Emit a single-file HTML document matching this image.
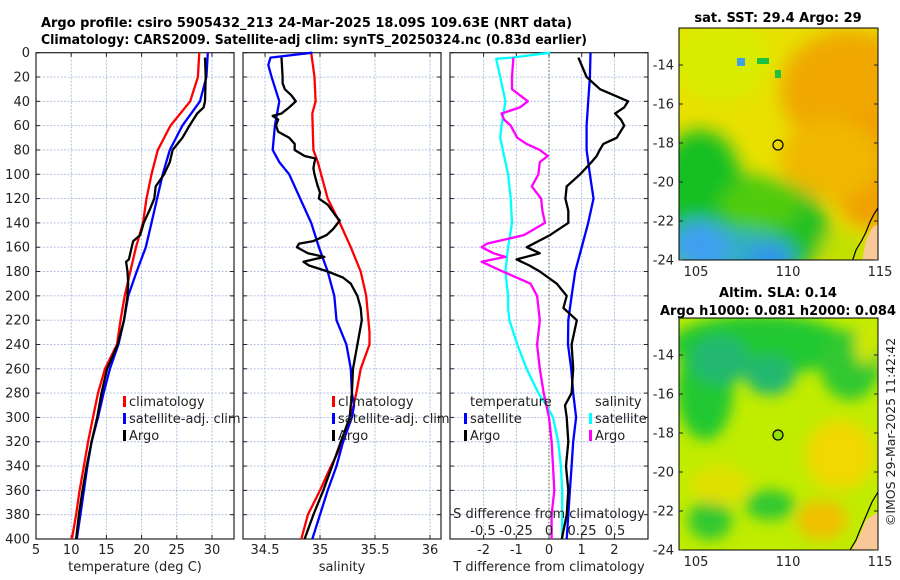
<!DOCTYPE html>
<html><head><meta charset="utf-8"><style>
html,body{margin:0;padding:0;background:#fff;}
svg{display:block;font-family:"DejaVu Sans","Liberation Sans",sans-serif;}
</style></head><body>
<svg id="fig" width="900" height="580" viewBox="0 0 900 580" xmlns="http://www.w3.org/2000/svg">
<defs>
<filter id="blur1" x="-20%" y="-20%" width="140%" height="140%"><feGaussianBlur stdDeviation="9"/></filter>
<filter id="blur2" x="-20%" y="-20%" width="140%" height="140%"><feGaussianBlur stdDeviation="7"/></filter>
<clipPath id="clipTop"><rect x="679" y="28" width="199" height="232"/></clipPath>
<clipPath id="clipBot"><rect x="679" y="318" width="199" height="232"/></clipPath>
</defs>
<g font-weight="bold" font-size="13.5" fill="#000">
<text x="41" y="27" textLength="531" lengthAdjust="spacingAndGlyphs">Argo profile: csiro 5905432_213 24-Mar-2025 18.09S 109.63E (NRT data)</text>
<text x="41" y="44" textLength="546" lengthAdjust="spacingAndGlyphs">Climatology: CARS2009. Satellite-adj clim: synTS_20250324.nc (0.83d earlier)</text>
</g>
<g id="panels"></g>

<g>
<g clip-path="url(#clipTop)">
<rect x="679" y="28" width="199" height="232" fill="#e8e000"/>
<g filter="url(#blur1)">
<ellipse cx="850" cy="90" rx="70" ry="60" fill="#f0a800"/>
<ellipse cx="870" cy="170" rx="40" ry="60" fill="#f0a000"/>
<ellipse cx="830" cy="160" rx="50" ry="40" fill="#f0b800"/>
<ellipse cx="720" cy="60" rx="50" ry="40" fill="#d8ec00"/>
<ellipse cx="740" cy="230" rx="90" ry="55" fill="#20c020"/>
<ellipse cx="700" cy="180" rx="40" ry="50" fill="#18c020"/>
<ellipse cx="760" cy="205" rx="40" ry="25" fill="#50cc10"/>
<ellipse cx="735" cy="255" rx="60" ry="25" fill="#30b0c0"/>
<ellipse cx="700" cy="245" rx="30" ry="25" fill="#40a0f0"/>
<ellipse cx="770" cy="258" rx="25" ry="12" fill="#3090f0"/>
<ellipse cx="845" cy="250" rx="25" ry="20" fill="#c0e000"/>
</g>
<rect x="737" y="58" width="8" height="8" fill="#40a0e0"/>
<rect x="757" y="58" width="12" height="6" fill="#20c040"/>
<rect x="775" y="70" width="6" height="8" fill="#20c040"/>
<path d="M878,224 L872,228 L866,240 L862,262 L878,262 Z" fill="#f8c898"/>
<path d="M878,208 L874,214 L870,222 L866,232 L862,240 L856,250 L852,262" fill="none" stroke="#000" stroke-width="1.2"/>
</g>
<rect x="679" y="28" width="199" height="232" fill="none" stroke="#000" stroke-width="1"/>
<circle cx="778" cy="145" r="5" fill="none" stroke="#000" stroke-width="1.2"/>
<text x="778" y="22" text-anchor="middle" font-weight="bold" font-size="13">sat. SST: 29.4 Argo: 29</text>
</g>

<g>
<g clip-path="url(#clipBot)">
<rect x="679" y="318" width="199" height="232" fill="#c0ec00"/>
<g filter="url(#blur2)">
<ellipse cx="760" cy="345" rx="90" ry="30" fill="#20c830"/>
<ellipse cx="705" cy="390" rx="28" ry="50" fill="#20c830"/>
<ellipse cx="720" cy="360" rx="30" ry="25" fill="#20b870"/>
<ellipse cx="770" cy="375" rx="25" ry="20" fill="#20b870"/>
<ellipse cx="850" cy="365" rx="30" ry="35" fill="#30c830"/>
<ellipse cx="865" cy="345" rx="10" ry="20" fill="#d0e800"/>
<ellipse cx="840" cy="455" rx="35" ry="35" fill="#f0d800"/>
<ellipse cx="822" cy="520" rx="25" ry="20" fill="#f0c000"/>
<ellipse cx="770" cy="505" rx="25" ry="15" fill="#30c830"/>
<ellipse cx="710" cy="520" rx="22" ry="20" fill="#30c830"/>
<ellipse cx="720" cy="485" rx="30" ry="20" fill="#e0e000"/>
</g>
<path d="M878,512 L866,520 L860,535 L852,550 L878,550 Z" fill="#f8c898"/>
<path d="M878,492 L872,502 L866,516 L860,530 L856,540 L850,550" fill="none" stroke="#000" stroke-width="1.2"/>
</g>
<rect x="679" y="318" width="199" height="232" fill="none" stroke="#000" stroke-width="1"/>
<circle cx="778" cy="435" r="5" fill="#90e000" stroke="#000" stroke-width="1.2"/>
<text x="778" y="297" text-anchor="middle" font-weight="bold" font-size="13">Altim. SLA: 0.14</text>
<text x="778" y="315" text-anchor="middle" font-weight="bold" font-size="13" textLength="236" lengthAdjust="spacingAndGlyphs">Argo h1000: 0.081 h2000: 0.084</text>
</g>
<text transform="translate(895,432) rotate(-90)" text-anchor="middle" font-size="12.5" fill="#222">©IMOS 29-Mar-2025 11:42:42</text>
<g id="maplabels"></g>
</svg>
<script>
var depthT = [0,20,40,60,80,100,120,140,160,180,200,220,240,260,280,300,320,340,360,380,400];
var tempClim = [28.2,28.0,26.9,24.1,22.3,21.4,20.7,20.2,19.2,18.4,17.6,17.0,16.5,14.8,13.8,13.1,12.4,11.8,11.2,10.7,10.1];
var tempSat = [29.4,29.2,28.3,25.8,24.0,23.0,22.2,21.4,20.6,19.3,18.1,17.5,16.7,15.5,14.6,13.8,12.9,12.3,11.8,11.3,10.8];
var depthArgoT = [4,20,40,45,50,60,70,80,90,100,110,120,130,140,150,155,160,170,172,180,190,200,220,240,260,280,300,320,340,360,380,400];
var tempArgo = [29.0,29.1,29.0,28.8,27.9,26.8,25.8,24.4,24.0,23.2,22.0,21.8,21.1,20.3,19.8,18.8,18.6,18.2,17.8,18.0,18.1,18.0,17.5,16.6,15.1,14.3,13.7,12.9,12.2,11.6,11.1,10.7];

var depthSClim = [0,20,40,50,80,90,100,120,140,160,180,200,220,230,240,260,280,300,320,340,360,380,400];
var salClim = [34.92,34.95,34.96,34.93,34.94,34.98,35.01,35.07,35.18,35.28,35.37,35.42,35.44,35.45,35.45,35.37,35.33,35.28,35.21,35.10,35.00,34.89,34.83];
var depthSSat = [0,4,10,20,40,60,80,90,100,120,140,160,180,200,220,240,260,280,290,300,320,340,360,380,400];
var salSat = [34.93,34.55,34.53,34.56,34.63,34.59,34.57,34.63,34.72,34.82,34.92,34.99,35.07,35.13,35.15,35.24,35.28,35.29,35.31,35.29,35.21,35.15,35.07,35.00,34.93];
var depthArgoS = [4,20,25,30,35,40,45,50,52,55,60,65,70,75,80,85,87,90,95,100,110,115,120,125,135,138,145,150,155,157,160,165,168,172,175,180,185,190,195,200,210,220,240,260,280,300,320,340,360,380,400];
var salArgo = [34.65,34.66,34.66,34.68,34.74,34.78,34.72,34.65,34.57,34.62,34.60,34.62,34.72,34.77,34.77,34.86,34.96,34.95,34.94,34.95,34.98,35.00,34.99,35.07,35.15,35.18,35.12,35.06,34.94,34.81,34.79,34.89,35.04,34.85,34.90,35.07,35.21,35.28,35.31,35.34,35.37,35.38,35.34,35.30,35.29,35.27,35.19,35.11,35.03,34.94,34.86];

var depthDSat = [0,20,40,60,80,100,120,140,160,180,200,220,240,260,280,300,320,340,360,380,400];
var dTSat = [1.27,1.25,1.20,1.15,1.15,1.25,1.36,1.20,1.00,0.80,0.69,0.59,0.58,0.68,0.74,0.83,0.74,0.69,0.64,0.59,0.54];
var depthDSSat = [0,4,5,20,40,60,70,80,100,120,140,160,180,200,210,220,240,260,280,290,300,320,340,360,380,400];
var dSSat = [0.01,-0.28,-0.40,-0.37,-0.33,-0.36,-0.37,-0.35,-0.31,-0.29,-0.28,-0.31,-0.33,-0.31,-0.31,-0.30,-0.24,-0.17,-0.08,-0.02,0.03,0.07,0.09,0.10,0.10,0.10];
var depthDArgo = [4,20,30,40,45,50,55,60,70,75,80,85,90,100,110,120,130,140,150,160,165,170,175,180,190,200,210,220,240,260,280,290,300,320,340,360,380,400];
var dTArgo = [0.90,1.15,1.56,2.42,2.30,2.02,2.20,2.30,2.07,1.66,1.55,1.46,1.30,0.95,0.54,0.50,0.59,0.59,0.03,-0.68,-0.28,-0.99,-0.60,-0.28,0.24,0.54,0.44,0.85,0.69,0.74,0.69,0.49,0.54,0.59,0.52,0.59,0.54,0.39];
var depthDArgoS = [4,20,30,35,40,45,50,55,60,70,75,80,85,90,100,110,120,130,140,150,157,160,165,168,172,180,190,200,220,240,260,280,300,320,340,360,380,400];
var dSArgo = [-0.27,-0.28,-0.28,-0.22,-0.16,-0.22,-0.36,-0.34,-0.29,-0.24,-0.17,-0.07,-0.01,-0.07,-0.08,-0.13,-0.06,-0.05,-0.03,-0.19,-0.47,-0.51,-0.42,-0.33,-0.51,-0.35,-0.14,-0.09,-0.07,-0.09,-0.07,-0.04,0.00,0.02,0.03,0.04,0.02,0.02];

var depthTicks = [0,20,40,60,80,100,120,140,160,180,200,220,240,260,280,300,320,340,360,380,400];
var tTicks = [5,10,15,20,25,30];
var sTicks = [34.5,35,35.5,36];
var dtTicks = [-2,-1,0,1,2];
var dsTicks = [-0.5,-0.25,0,0.25,0.5];
var dsTickLabels = ['-0.5','-0.25','0','0.25','0.5'];
var latTicks = [-14,-16,-18,-20,-22,-24];
var lonTicks = [105,110,115];

var Y0 = 52.7, Y1 = 539;
function yD(d){ return Y0 + d*(Y1-Y0)/400; }
function xT(t){ return 36 + (t-5)*7.04; }
function xS(s){ return 243 + (s-34.3)*110; }
function xDT(t){ return 549 + t*32.7; }
function xDS(s){ return 549 + s*132; }

var NS = 'http://www.w3.org/2000/svg';
var root = document.getElementById('panels');
function mk(tag, attrs, parent){
  var e = document.createElementNS(NS, tag);
  for (var k in attrs) e.setAttribute(k, attrs[k]);
  (parent||root).appendChild(e); return e;
}
function line(xs, ds, xf, color, name, parent){
  var p = '';
  for (var i=0;i<xs.length;i++) p += (i?'L':'M') + xf(xs[i]).toFixed(1) + ',' + yD(ds[i]).toFixed(1);
  var el = mk('path', {d:p, fill:'none', stroke:color, 'stroke-width':2.3, 'stroke-linejoin':'round'}, parent);
  
  
}
function txt(x,y,s,opt,parent){
  var a = {x:x,y:y,'font-size':13,fill:'#222'};
  if (opt) for (var k in opt) a[k]=opt[k];
  var e = mk('text', a, parent);
  e.textContent = s; return e;
}
function panel(name, x0, x1, vticks, xf){
  var g = mk('g', {});
  
  
  depthTicks.forEach(function(d){
    if (d>0 && d<400) mk('line',{x1:x0,x2:x1,y1:yD(d),y2:yD(d),stroke:'#aab8e0','stroke-width':0.9,'stroke-dasharray':'2,1.5'},g);
    mk('line',{x1:x0,x2:x0+4,y1:yD(d),y2:yD(d),stroke:'#222'},g);
    mk('line',{x1:x1,x2:x1-4,y1:yD(d),y2:yD(d),stroke:'#222'},g);
  });
  vticks.forEach(function(v){
    var x = xf(v);
    if (x>x0+1 && x<x1-1) mk('line',{x1:x,x2:x,y1:Y0,y2:Y1,stroke:'#aab8e0','stroke-width':0.9,'stroke-dasharray':'2,1.5'},g);
    mk('line',{x1:x,x2:x,y1:Y1,y2:Y1-4,stroke:'#222'},g);
    mk('line',{x1:x,x2:x,y1:Y0,y2:Y0+4,stroke:'#222'},g);
  });
  mk('rect',{x:x0,y:Y0,width:x1-x0,height:Y1-Y0,fill:'none',stroke:'#222','stroke-width':1.2},g);
  return g;
}

var g1 = panel('temperature-panel', 36, 234, tTicks, xT);
depthTicks.forEach(function(d){ txt(30, yD(d)+4.5, String(d), {'text-anchor':'end'}, g1); });
tTicks.forEach(function(t){ txt(xT(t), 554, String(t), {'text-anchor':'middle'}, g1); });
txt(135, 571, 'temperature (deg C)', {'text-anchor':'middle'}, g1);
line(tempClim, depthT, xT, '#ff0000', 'temp-climatology-line', g1);
line(tempSat, depthT, xT, '#0000ff', 'temp-satellite-line', g1);
line(tempArgo, depthArgoT, xT, '#000000', 'temp-argo-line', g1);

var g2 = panel('salinity-panel', 243, 441, sTicks, xS);
sTicks.forEach(function(s){ txt(xS(s), 554, String(s), {'text-anchor':'middle'}, g2); });
txt(342, 571, 'salinity', {'text-anchor':'middle'}, g2);
line(salClim, depthSClim, xS, '#ff0000', 'sal-climatology-line', g2);
line(salSat, depthSSat, xS, '#0000ff', 'sal-satellite-line', g2);
line(salArgo, depthArgoS, xS, '#000000', 'sal-argo-line', g2);

var g3 = panel('difference-panel', 450, 648, dtTicks, xDT);
mk('line',{x1:549,x2:549,y1:Y0,y2:Y1,stroke:'#556b2f','stroke-width':1,'stroke-dasharray':'1.5,2'},g3);
dtTicks.forEach(function(t){ txt(xDT(t), 554, String(t), {'text-anchor':'middle'}, g3); });
txt(549, 571, 'T difference from climatology', {'text-anchor':'middle'}, g3);
line(dSSat, depthDSSat, xDS, '#00ffff', 'dsal-satellite-line', g3);
line(dSArgo, depthDArgoS, xDS, '#ff00ff', 'dsal-argo-line', g3);
line(dTSat, depthDSat, xDT, '#0000ff', 'dtemp-satellite-line', g3);
line(dTArgo, depthDArgo, xDT, '#000000', 'dtemp-argo-line', g3);
dsTicks.forEach(function(s,i){ txt(xDS(s), 535, dsTickLabels[i], {'text-anchor':'middle'}, g3); });
txt(549, 518, 'S difference from climatology', {'text-anchor':'middle'}, g3);

function legend(name, x, y, items){
  var g = mk('g', {});
  
  
  items.forEach(function(it,i){
    var yy = y + i*17;
    if (it[1]) mk('rect',{x:x-6,y:yy-10,width:3,height:11,fill:it[1]},g);
    txt(x, yy, it[0], {}, g);
  });
}
legend('temperature-legend', 129, 406, [['climatology','#ff0000'],['satellite-adj. clim','#0000ff'],['Argo','#000000']]);
legend('salinity-legend', 338, 406, [['climatology','#ff0000'],['satellite-adj. clim','#0000ff'],['Argo','#000000']]);
legend('diff-temp-legend', 470, 406, [['temperature',null],['satellite','#0000ff'],['Argo','#000000']]);
legend('diff-sal-legend', 595, 406, [['salinity',null],['satellite','#00ffff'],['Argo','#ff00ff']]);

var ml = document.getElementById('maplabels');
latTicks.forEach(function(lat){
  var yA = 65 + (-14 - lat) * 19.5;
  var yB = 355 + (-14 - lat) * 19.5;
  txt(674, yA+4.5, String(lat), {'text-anchor':'end'}, ml);
  txt(674, yB+4.5, String(lat), {'text-anchor':'end'}, ml);
  mk('line',{x1:679,x2:683,y1:yA,y2:yA,stroke:'#222'},ml);
  mk('line',{x1:679,x2:683,y1:yB,y2:yB,stroke:'#222'},ml);
  mk('line',{x1:878,x2:874,y1:yA,y2:yA,stroke:'#222'},ml);
  mk('line',{x1:878,x2:874,y1:yB,y2:yB,stroke:'#222'},ml);
});
lonTicks.forEach(function(lon){
  var x = 696 + (lon-105)*18.4;
  txt(x, 276, String(lon), {'text-anchor':'middle'}, ml);
  txt(x, 566, String(lon), {'text-anchor':'middle'}, ml);
});
</script>
</body></html>
